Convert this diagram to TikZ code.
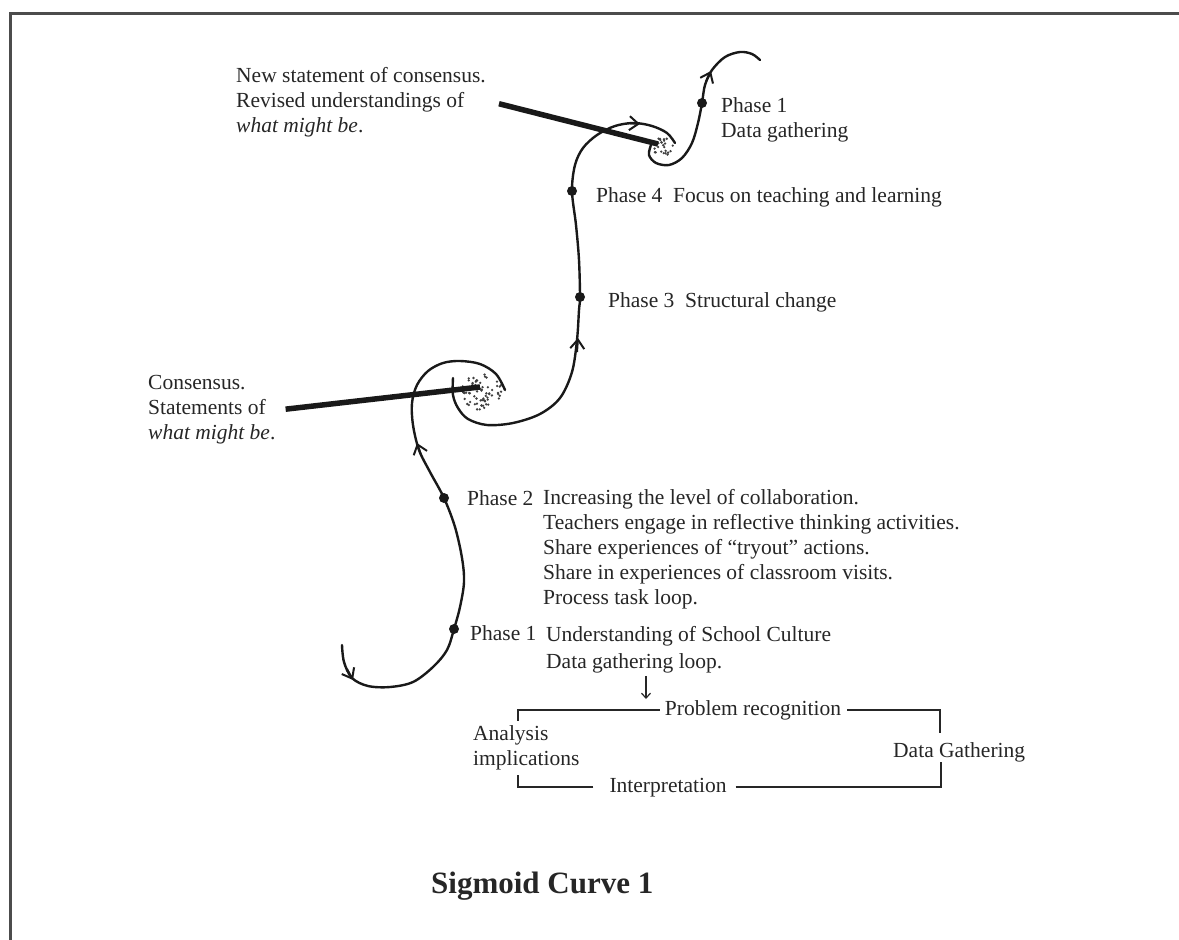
\documentclass[tikz,border=0pt]{standalone}
\usepackage{fontspec}
\setmainfont{Liberation Serif}
\usetikzlibrary{arrows.meta, positioning, calc}

\tikzset{
  txt/.style={anchor=base west, inner sep=0pt, text=black!85, align=left,
    font=\fontsize{21.5}{25}\selectfont},
  phasedot/.style={circle, fill=black!90, inner sep=0pt, minimum size=10pt},
  curve/.style={line width=2.4pt, black!90, line cap=round, line join=round},
  barb/.style={line width=2pt, black!90, -{Straight Barb[length=9pt, width=14pt, line width=2pt]}},
  pointer/.style={line width=5.5pt, black!90},
  loopline/.style={line width=2pt, black!85},
  smallarrow/.style={line width=1.2pt, black!85, -{Straight Barb[length=5pt, width=9pt]}},
}

\begin{document}
\begin{tikzpicture}[x=1pt, y=-1pt]
  \useasboundingbox (0,0) rectangle (1179,940);
  % frame
  \draw[line width=3pt, black!70] (1179,13) -- (10,13) -- (10,940);

  % lower part of the curve, into the first spiral
  \draw[curve] plot[smooth, tension=0.55] coordinates
    {(342,645) (344,662) (352,678) (368,686) (390,687) (413,682) (433,667)
     (447,650) (454,629) (460,607) (464,582) (462,558) (455,527) (444,498)
     (430,472) (419,450) (413,425) (412,403) (417,385) (428,371) (443,363)
     (460,361) (480,364) (496,374) (505,390)};
  % out of the first spiral, into the second
  \draw[curve] plot[smooth, tension=0.55] coordinates
    {(453,378) (453,395) (458,408) (468,419) (487,425) (513,423) (540,414)
     (560,398) (572,372) (577,340) (579,310) (580,297) (579,260) (576,225)
     (572,191) (575,165) (583,148) (597,135) (615,126) (634,123) (652,126)
     (667,133) (675,143)};
  % out of the second spiral
  \draw[curve] plot[smooth, tension=0.55] coordinates
    {(651,145) (649,155) (656,163) (669,165) (682,158) (692,143) (698,123)
     (702,103) (705,85) (712,70) (725,57) (740,52) (752,54) (760,60)};

  % arrow heads on the curve
  \draw[barb] (347,669) -- (353,680);
  \draw[barb] (421,455) -- (417,443);
  \draw[barb] (577,352) -- (578,338);
  \draw[barb] (627,123) -- (640,124);
  \draw[barb] (706,82) -- (711,71);

  % stippled centres of the spirals
  \pgfmathsetseed{11}
  \foreach \k in {1,...,70} {
    \pgfmathsetmacro{\rr}{sqrt(rnd)}
    \pgfmathsetmacro{\aa}{360*rnd}
    \fill[black!75] ({481+21*\rr*cos(\aa)},{391+19*\rr*sin(\aa)}) circle[radius=1.3pt];
  }
  \foreach \k in {1,...,24} {
    \pgfmathsetmacro{\rr}{sqrt(rnd)}
    \pgfmathsetmacro{\aa}{360*rnd}
    \fill[black!75] ({663+11*\rr*cos(\aa)},{147+10*\rr*sin(\aa)}) circle[radius=1.3pt];
  }

  % phase markers
  \node[phasedot] (dA) at (454,629) {};
  \node[phasedot] (dB) at (444,498) {};
  \node[phasedot] (dC) at (580,297) {};
  \node[phasedot] (dD) at (572,191) {};
  \node[phasedot] (dE) at (702,103) {};

  % labels (multi-line nodes sit on their last baseline)
  \node[txt] (phonetop) at (721,137) {Phase 1\\Data gathering};
  \node[txt] (phfour) at (596,202) {Phase 4\enspace Focus on teaching and learning};
  \node[txt] (phthree) at (608,307) {Phase 3\enspace Structural change};
  \node[txt] (phtwo) at (467,505) {Phase 2};
  \node[txt] (phtwotxt) at (543,604) {Increasing the level of collaboration.\\
    Teachers engage in reflective thinking activities.\\
    Share experiences of “tryout” actions.\\
    Share in experiences of classroom visits.\\
    Process task loop.};
  \node[txt] (phone) at (470,640) {Phase 1};
  \node[txt] (phonetxt) at (546,668) {Understanding of School Culture\\[2pt]Data gathering loop.};

  % consensus notes
  \node[txt] (newcons) at (236,132) {New statement of consensus.\\Revised understandings of\\\textit{what might be}.};
  \node[txt] (cons) at (148,439) {Consensus.\\Statements of\\\textit{what might be}.};
  \coordinate (spiralA) at (480,387);
  \coordinate (spiralB) at (658,144);
  \draw[pointer] ([xshift=10pt]cons.east) -- (spiralA);
  \draw[pointer] ([xshift=13pt,yshift=-2pt]newcons.east) -- (spiralB);

  % data gathering loop
  \node[txt, anchor=base] (prob) at (753,715) {Problem recognition};
  \node[txt] (anal) at (473,765) {Analysis\\implications};
  \node[txt] (dgath) at (893,757) {Data Gathering};
  \node[txt, anchor=base] (interp) at (668,792) {Interpretation};
  \coordinate (probin) at (646,699);
  \draw[smallarrow] ([xshift=100pt,yshift=-3pt]phonetxt.south west) -- (probin);
  \coordinate (tl) at (518,721);
  \coordinate (tr) at (940,733);
  \coordinate (bl) at (518,775);
  \coordinate (br) at (941,762);
  \draw[loopline] ([xshift=-5pt]prob.west) -| (tl);
  \draw[loopline] ([xshift=6pt]prob.east) -| (tr);
  \draw[loopline] ([xshift=-16pt]interp.west) -| (bl);
  \draw[loopline] ([xshift=9pt]interp.east) -| (br);

  \node[anchor=base west, inner sep=0pt, text=black!85,
    font=\fontsize{31}{36}\selectfont\bfseries] (title) at (431,893) {Sigmoid Curve 1};
\end{tikzpicture}
\end{document}
